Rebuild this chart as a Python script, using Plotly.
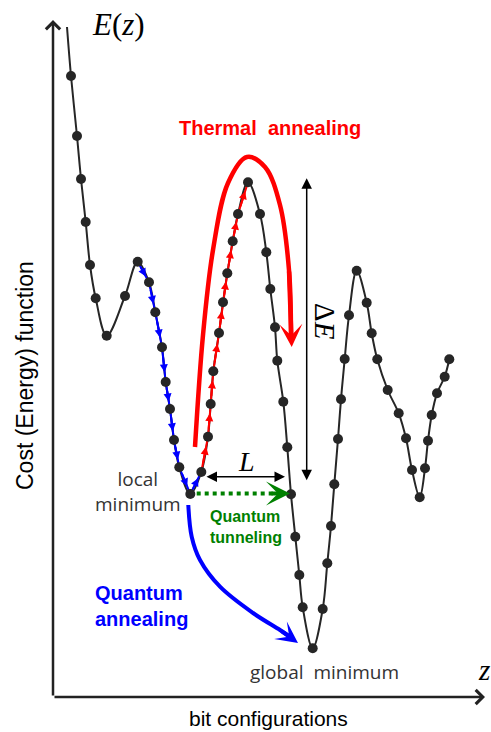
import plotly.graph_objects as go

# ---------------- data (z = bit configuration, E = cost) ----------------
z_pts = [14, 18, 24, 28, 32.7, 37, 42.7, 53.7, 72, 84.7, 96, 102.3, 109, 112.7, 117, 121,
         126.3, 137.3, 148.3, 155, 157.7, 160.3, 166, 170, 174.3, 179.7, 185, 195, 207,
         213.3, 217.3, 222, 224.3, 230.3, 234.3, 238, 242.3, 246.3, 249.7, 259.7, 269.7,
         274.3, 278, 281.3, 285, 288, 291.7, 296, 303.7, 313.7, 318.7, 324.3, 334.7, 345.7,
         353, 359, 366.7, 372, 375, 378.7, 384, 391.7, 396.3]
E_pts = [670, 621, 561, 518, 475, 432, 398.7, 361.3, 401, 435.3, 414.7, 384.7, 349.7, 315,
         288, 257, 229.7, 203, 225, 260.3, 293, 325.7, 364, 394.7, 423.7, 455.7, 483, 514.7,
         483, 444.7, 408, 369.7, 336.3, 295.3, 249.7, 202.7, 160.3, 122, 89.7, 48.7, 88,
         133.7, 171, 212.7, 258, 297.7, 338, 381.7, 426.3, 394.3, 363.7, 337.7, 307, 283.7,
         258.7, 227, 199.7, 228.7, 256.3, 282, 303.7, 320.3, 337.7]
first_dot = 1                      # the curve starts above the first sample dot
blue_path = list(range(9, 19))     # descent into the local minimum
red_path = list(range(18, 28))     # thermal climb to the barrier top

arc_z = [142, 150, 160, 175, 194, 212, 227, 236, 238]
arc_E = [250, 362, 447, 514, 540, 530, 492, 427, 362]
arc_tip = (238.7, 350)

qa_z = [135.3, 138.7, 147, 167, 200, 227, 236]
qa_E = [192, 160.3, 137, 110.3, 84, 67, 61]
qa_tip = (245, 54)

tun_z = [143.7, 222]
tun_E = [203.5, 203.5]
tun_tip = (237, 203.5)

L_arrow = (152, 232, 220.3)
dE_arrow = (253.7, 215.3, 518.7)
axis_end_z = 432
axis_end_E = 677

INK = "#262626"
fig = go.Figure()

# smooth landscape
fig.add_trace(go.Scatter(x=z_pts, y=E_pts, mode="lines",
                         line=dict(color=INK, width=2, shape="spline", smoothing=1.0),
                         hoverinfo="skip"))
# blue and red walks along the curve
fig.add_trace(go.Scatter(x=[z_pts[i] for i in blue_path], y=[E_pts[i] for i in blue_path],
                         mode="lines", line=dict(color="#0000ff", width=2), hoverinfo="skip"))
fig.add_trace(go.Scatter(x=[z_pts[i] for i in red_path], y=[E_pts[i] for i in red_path],
                         mode="lines", line=dict(color="#ff0000", width=2), hoverinfo="skip"))
# thermal annealing arc
fig.add_trace(go.Scatter(x=arc_z, y=arc_E, mode="lines",
                         line=dict(color="#ff0000", width=4.5, shape="spline", smoothing=1.0),
                         hoverinfo="skip"))
# quantum annealing path
fig.add_trace(go.Scatter(x=qa_z, y=qa_E, mode="lines",
                         line=dict(color="#0000ff", width=4, shape="spline"), hoverinfo="skip"))
# tunneling (dotted)
fig.add_trace(go.Scatter(x=tun_z, y=tun_E, mode="lines",
                         line=dict(color="#008000", width=4, dash="dot"), hoverinfo="skip"))
# sample dots
fig.add_trace(go.Scatter(x=z_pts[first_dot:], y=E_pts[first_dot:], mode="markers",
                         marker=dict(color=INK, size=10), hoverinfo="skip"))

ann = []


def arrow(x0, y0, x1, y1, color, width, head, size, side="end"):
    ann.append(dict(x=x1, y=y1, ax=x0, ay=y0, xref="x", yref="y", axref="x", ayref="y",
                    text="", showarrow=True, arrowcolor=color, arrowwidth=width,
                    arrowhead=head, startarrowhead=head, arrowsize=size, startarrowsize=size,
                    arrowside=side, standoff=0, startstandoff=0))


def walk_arrows(path, color):
    for a, b in zip(path[:-1], path[1:]):
        x0, y0, x1, y1 = z_pts[a], E_pts[a], z_pts[b], E_pts[b]
        arrow(x0 + 0.2 * (x1 - x0), y0 + 0.2 * (y1 - y0),
              x0 + 0.72 * (x1 - x0), y0 + 0.72 * (y1 - y0), color, 2, 2, 0.8)


walk_arrows(blue_path, "#0000ff")
walk_arrows(red_path, "#ff0000")

# big arrowheads
arrow(arc_z[-2], arc_E[-2], arc_tip[0], arc_tip[1], "#ff0000", 4.5, 3, 0.85)
arrow(qa_z[-2], qa_E[-2], qa_tip[0], qa_tip[1], "#0000ff", 4, 3, 0.9)
arrow(tun_z[-1] - 5, tun_E[-1], tun_tip[0], tun_tip[1], "#008000", 4, 3, 1.0)

# L and Delta E double arrows
arrow(L_arrow[0], L_arrow[2], L_arrow[1], L_arrow[2], "black", 1.5, 2, 1.4, "end+start")
arrow(dE_arrow[0], dE_arrow[1], dE_arrow[0], dE_arrow[2], "black", 1.5, 2, 1.4, "end+start")

# axes
arrow(0, 0, 0, axis_end_E, "#222222", 2.5, 4, 1.1)
arrow(0, 0, axis_end_z, 0, "#222222", 2.5, 4, 1.1)


def label(x, y, text, size, color="black", family="Liberation Sans", angle=0,
          xanchor="center", align="center"):
    ann.append(dict(x=x, y=y, xref="x", yref="y", text=text, showarrow=False,
                    font=dict(size=size, color=color, family=family), textangle=angle,
                    xanchor=xanchor, yanchor="middle", align=align))


label(65, 673, "<i>E</i>(<i>z</i>)", 31, family="Liberation Serif")
label(431, 27, "<i>z</i>", 29, family="Liberation Serif")
label(193.7, 236, "<i>L</i>", 28, family="Liberation Serif")
label(272, 376, "Δ<i>E</i>", 29, family="Liberation Serif", angle=90)
label(217, 569, "<b>Thermal  annealing</b>", 20, color="#ff0000")
label(85, 206, "local<br>minimum", 19, color="#333333", family="Open Sans")
label(271, 25, "global  minimum", 19, color="#333333", family="Open Sans")
label(155, 170, "<b>Quantum<br>tunneling</b>", 16, color="#008000", xanchor="left", align="left")
label(40, 91, "<b>Quantum<br>annealing</b>", 20, color="#0000ff", xanchor="left", align="left")
label(215, -21, "bit configurations", 21)
label(-28, 321, "Cost (Energy) function", 23, angle=-90)

fig.update_layout(
    width=491, height=732, autosize=False,
    margin=dict(l=0, r=0, t=0, b=0),
    paper_bgcolor="white", plot_bgcolor="white",
    showlegend=False, annotations=ann,
    xaxis=dict(range=[-53, 438], visible=False, fixedrange=True),
    yaxis=dict(range=[-35, 697], visible=False, fixedrange=True),
)

fig.write_html("out.html")
